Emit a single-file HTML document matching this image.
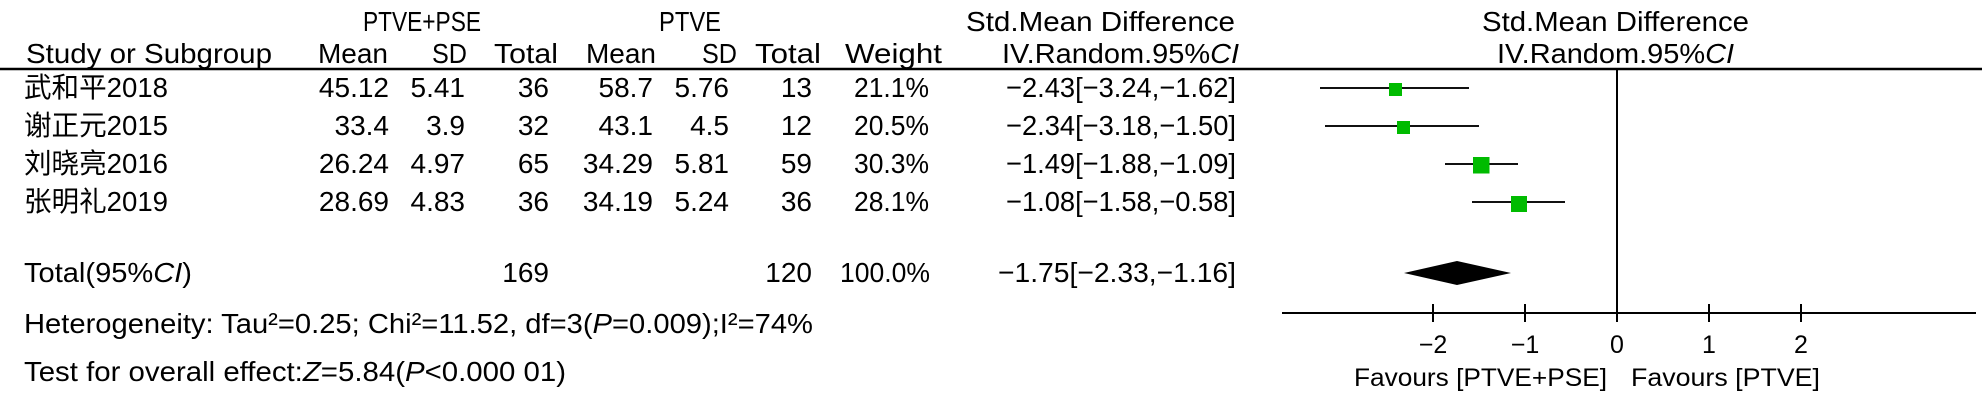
<!DOCTYPE html>
<html>
<head>
<meta charset="utf-8">
<style>
html,body{margin:0;padding:0;background:#fff;}
svg{display:block;}
text{font-family:"Liberation Sans","Noto Sans CJK SC",sans-serif;fill:#000;}
.t{font-size:28px;}
.s{font-size:25px;}
.i{font-style:italic;}
</style>
</head>
<body>
<svg width="1982" height="403" viewBox="0 0 1982 403" xmlns="http://www.w3.org/2000/svg">
<rect width="1982" height="403" fill="#fff"/>

<!-- Header row 1 -->
<text class="t" x="422" y="31" text-anchor="middle" textLength="118" lengthAdjust="spacingAndGlyphs">PTVE+PSE</text>
<text class="t" x="690" y="31" text-anchor="middle" textLength="62" lengthAdjust="spacingAndGlyphs">PTVE</text>
<text class="t" x="966" y="31" textLength="269" lengthAdjust="spacingAndGlyphs">Std.Mean Difference</text>
<text class="t" x="1482" y="31" textLength="267" lengthAdjust="spacingAndGlyphs">Std.Mean Difference</text>

<!-- Header row 2 -->
<text class="t" x="26" y="63" textLength="246" lengthAdjust="spacingAndGlyphs">Study or Subgroup</text>
<text class="t" x="388" y="63" text-anchor="end">Mean</text>
<text class="t" x="467" y="63" text-anchor="end" textLength="35" lengthAdjust="spacingAndGlyphs">SD</text>
<text class="t" x="558" y="63" text-anchor="end" textLength="64" lengthAdjust="spacingAndGlyphs">Total</text>
<text class="t" x="656" y="63" text-anchor="end">Mean</text>
<text class="t" x="737" y="63" text-anchor="end" textLength="35" lengthAdjust="spacingAndGlyphs">SD</text>
<text class="t" x="821" y="63" text-anchor="end" textLength="66" lengthAdjust="spacingAndGlyphs">Total</text>
<text class="t" x="845" y="63" textLength="97" lengthAdjust="spacingAndGlyphs">Weight</text>
<text class="t" x="1002" y="63" textLength="237" lengthAdjust="spacingAndGlyphs">IV.Random.95%<tspan class="i">CI</tspan></text>
<text class="t" x="1497" y="63" textLength="237" lengthAdjust="spacingAndGlyphs">IV.Random.95%<tspan class="i">CI</tspan></text>

<!-- header rule -->
<line x1="0" y1="69" x2="1982" y2="69" stroke="#000" stroke-width="2.5"/>

<!-- Rows -->
<text class="t" x="24" y="97" textLength="144" lengthAdjust="spacingAndGlyphs">武和平2018</text>
<text class="t" x="389" y="97" text-anchor="end">45.12</text>
<text class="t" x="465" y="97" text-anchor="end">5.41</text>
<text class="t" x="549" y="97" text-anchor="end">36</text>
<text class="t" x="653" y="97" text-anchor="end">58.7</text>
<text class="t" x="729" y="97" text-anchor="end">5.76</text>
<text class="t" x="812" y="97" text-anchor="end">13</text>
<text class="t" x="929" y="97" text-anchor="end" textLength="75" lengthAdjust="spacingAndGlyphs">21.1%</text>
<text class="t" x="1236" y="97" text-anchor="end" textLength="230" lengthAdjust="spacingAndGlyphs">−2.43[−3.24,−1.62]</text>

<text class="t" x="24" y="135" textLength="144" lengthAdjust="spacingAndGlyphs">谢正元2015</text>
<text class="t" x="389" y="135" text-anchor="end">33.4</text>
<text class="t" x="465" y="135" text-anchor="end">3.9</text>
<text class="t" x="549" y="135" text-anchor="end">32</text>
<text class="t" x="653" y="135" text-anchor="end">43.1</text>
<text class="t" x="729" y="135" text-anchor="end">4.5</text>
<text class="t" x="812" y="135" text-anchor="end">12</text>
<text class="t" x="929" y="135" text-anchor="end" textLength="75" lengthAdjust="spacingAndGlyphs">20.5%</text>
<text class="t" x="1236" y="135" text-anchor="end" textLength="230" lengthAdjust="spacingAndGlyphs">−2.34[−3.18,−1.50]</text>

<text class="t" x="24" y="173" textLength="144" lengthAdjust="spacingAndGlyphs">刘晓亮2016</text>
<text class="t" x="389" y="173" text-anchor="end">26.24</text>
<text class="t" x="465" y="173" text-anchor="end">4.97</text>
<text class="t" x="549" y="173" text-anchor="end">65</text>
<text class="t" x="653" y="173" text-anchor="end">34.29</text>
<text class="t" x="729" y="173" text-anchor="end">5.81</text>
<text class="t" x="812" y="173" text-anchor="end">59</text>
<text class="t" x="929" y="173" text-anchor="end" textLength="75" lengthAdjust="spacingAndGlyphs">30.3%</text>
<text class="t" x="1236" y="173" text-anchor="end" textLength="230" lengthAdjust="spacingAndGlyphs">−1.49[−1.88,−1.09]</text>

<text class="t" x="24" y="211" textLength="144" lengthAdjust="spacingAndGlyphs">张明礼2019</text>
<text class="t" x="389" y="211" text-anchor="end">28.69</text>
<text class="t" x="465" y="211" text-anchor="end">4.83</text>
<text class="t" x="549" y="211" text-anchor="end">36</text>
<text class="t" x="653" y="211" text-anchor="end">34.19</text>
<text class="t" x="729" y="211" text-anchor="end">5.24</text>
<text class="t" x="812" y="211" text-anchor="end">36</text>
<text class="t" x="929" y="211" text-anchor="end" textLength="75" lengthAdjust="spacingAndGlyphs">28.1%</text>
<text class="t" x="1236" y="211" text-anchor="end" textLength="230" lengthAdjust="spacingAndGlyphs">−1.08[−1.58,−0.58]</text>

<!-- Total row -->
<text class="t" x="24" y="282" textLength="168" lengthAdjust="spacingAndGlyphs">Total(95%<tspan class="i">CI</tspan>)</text>
<text class="t" x="549" y="282" text-anchor="end">169</text>
<text class="t" x="812" y="282" text-anchor="end">120</text>
<text class="t" x="930" y="282" text-anchor="end" textLength="90" lengthAdjust="spacingAndGlyphs">100.0%</text>
<text class="t" x="1236" y="282" text-anchor="end" textLength="238" lengthAdjust="spacingAndGlyphs">−1.75[−2.33,−1.16]</text>

<text class="t" x="24" y="333" textLength="789" lengthAdjust="spacingAndGlyphs">Heterogeneity: Tau²=0.25; Chi²=11.52, df=3(<tspan class="i">P</tspan>=0.009);I²=74%</text>
<text class="t" x="24" y="381" textLength="542" lengthAdjust="spacingAndGlyphs">Test for overall effect:<tspan class="i">Z</tspan>=5.84(<tspan class="i">P</tspan>&lt;0.000 01)</text>

<!-- Plot -->
<line x1="1617" y1="69" x2="1617" y2="313" stroke="#000" stroke-width="2"/>
<line x1="1282" y1="313" x2="1976" y2="313" stroke="#000" stroke-width="2"/>
<g stroke="#000" stroke-width="2">
<line x1="1433" y1="304" x2="1433" y2="322"/>
<line x1="1525" y1="304" x2="1525" y2="322"/>
<line x1="1617" y1="304" x2="1617" y2="322"/>
<line x1="1709" y1="304" x2="1709" y2="322"/>
<line x1="1801" y1="304" x2="1801" y2="322"/>
</g>
<text class="s" x="1433" y="353" text-anchor="middle">−2</text>
<text class="s" x="1525" y="353" text-anchor="middle">−1</text>
<text class="s" x="1617" y="353" text-anchor="middle">0</text>
<text class="s" x="1709" y="353" text-anchor="middle">1</text>
<text class="s" x="1801" y="353" text-anchor="middle">2</text>
<text class="s" x="1354" y="386" textLength="253" lengthAdjust="spacingAndGlyphs">Favours [PTVE+PSE]</text>
<text class="s" x="1631" y="386" textLength="189" lengthAdjust="spacingAndGlyphs">Favours [PTVE]</text>

<!-- CI lines -->
<g stroke="#111" stroke-width="2">
<line x1="1320" y1="88" x2="1469" y2="88"/>
<line x1="1325" y1="126" x2="1479" y2="126"/>
<line x1="1445" y1="164" x2="1518" y2="164"/>
<line x1="1472" y1="202" x2="1565" y2="202"/>
</g>
<g fill="#00bb00">
<rect x="1389" y="83" width="13" height="13"/>
<rect x="1397" y="121" width="13" height="13"/>
<rect x="1473" y="157" width="16.5" height="16.5"/>
<rect x="1511" y="196" width="16" height="16"/>
</g>
<polygon points="1404,273 1457,261 1511,273 1457,285" fill="#000"/>
</svg>
</body>
</html>
